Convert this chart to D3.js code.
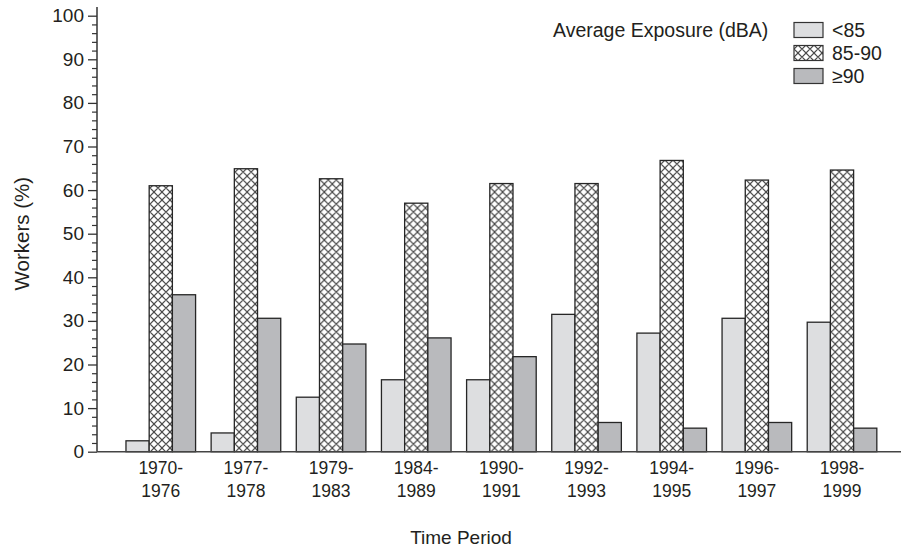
<!DOCTYPE html>
<html>
<head>
<meta charset="utf-8">
<script src="https://cdn.jsdelivr.net/npm/d3@7"></script>
<style>
  body { margin: 0; background: #fff; }
  svg text { font-family: "Liberation Sans", Arial, Helvetica, sans-serif; fill: #231f20; }
</style>
</head>
<body>
<svg id="chart" width="901" height="548"></svg>
<script>
// Share of workers by average noise exposure band, per time period
const periodLabels = [
  ["1970-", "1976"], ["1977-", "1978"], ["1979-", "1983"],
  ["1984-", "1989"], ["1990-", "1991"], ["1992-", "1993"],
  ["1994-", "1995"], ["1996-", "1997"], ["1998-", "1999"]
];
const seriesNames = ["<85", "85-90", "≥90"];
const below85    = [2.5, 4.3, 12.5, 16.5, 16.5, 31.5, 27.2, 30.6, 29.7];
const from85to90 = [61.0, 64.9, 62.6, 57.0, 61.5, 61.5, 66.8, 62.3, 64.6];
const atLeast90  = [36.0, 30.6, 24.7, 26.1, 21.8, 6.7, 5.4, 6.7, 5.4];
const majorTicks = [0, 10, 20, 30, 40, 50, 60, 70, 80, 90, 100];
const minorTicks = d3.range(0, 101, 2).filter(v => v % 10 !== 0);

const legendTitle = "Average Exposure (dBA)";
const xTitle = "Time Period";
const yTitle = "Workers (%)";

const W = 901, H = 548;
const axisX = 97;

const svg = d3.select("#chart");

// Fill styles per series
const defs = svg.append("defs");
const pat = defs.append("pattern")
  .attr("id", "crosshatch")
  .attr("patternUnits", "userSpaceOnUse")
  .attr("width", 8).attr("height", 8);
pat.append("rect").attr("width", 8).attr("height", 8).attr("fill", "#fff");
pat.append("path")
  .attr("d", "M0,4L4,0L8,4L4,8Z")
  .attr("fill", "none")
  .attr("stroke", "#4a4a4a")
  .attr("stroke-width", 1.2);

const fills = ["#dddee0", "url(#crosshatch)", "#b9babd"];

const periodKeys = periodLabels.map(d => d.join(""));
const rows = periodKeys.map((k, i) => ({
  key: k,
  values: [below85[i], from85to90[i], atLeast90[i]]
}));

const y = d3.scaleLinear().domain([0, 100]).range([451.7, 15.7]);
const x0 = d3.scaleBand().domain(periodKeys).range([118.2, 884.6])
  .paddingInner(0.1826).paddingOuter(0.0913);
const x1 = d3.scaleBand().domain(seriesNames).range([0, x0.bandwidth()]);

// Bars
const groups = svg.append("g").selectAll("g")
  .data(rows).join("g")
  .attr("transform", d => `translate(${x0(d.key)},0)`);

groups.selectAll("rect")
  .data(d => d.values.map((v, j) => ({ name: seriesNames[j], value: v, j })))
  .join("rect")
  .attr("x", d => x1(d.name))
  .attr("y", d => y(d.value))
  .attr("width", x1.bandwidth())
  .attr("height", d => y(0) - y(d.value))
  .attr("fill", d => fills[d.j])
  .attr("stroke", "#262626")
  .attr("stroke-width", 1.3);

// Y axis: major and minor ticks
const yAxisG = svg.append("g").attr("transform", `translate(${axisX},0)`);
yAxisG.append("g")
  .call(d3.axisLeft(y).tickValues(minorTicks).tickSize(5).tickFormat(""))
  .call(g => g.select(".domain").remove())
  .call(g => g.selectAll("line").attr("stroke", "#333").attr("stroke-width", 1.2));
yAxisG.append("g")
  .call(d3.axisLeft(y).tickValues(majorTicks).tickSize(9).tickPadding(4))
  .call(g => g.select(".domain").remove())
  .call(g => g.selectAll("line").attr("stroke", "#333").attr("stroke-width", 1.3))
  .call(g => g.selectAll("text").attr("font-size", 19).style("font-family", "'Liberation Sans', Arial, sans-serif").attr("fill", "#231f20"));
yAxisG.append("line")
  .attr("x1", 0).attr("x2", 0)
  .attr("y1", y(102)).attr("y2", y(0))
  .attr("stroke", "#333").attr("stroke-width", 1.5);

// Baseline
svg.append("line")
  .attr("x1", axisX).attr("x2", W)
  .attr("y1", y(0)).attr("y2", y(0))
  .attr("stroke", "#444").attr("stroke-width", 1.5);

// Category labels (two lines each)
const xLab = svg.append("g").selectAll("text")
  .data(rows).join("text")
  .attr("text-anchor", "middle")
  .attr("font-size", 17.5)
  .attr("x", d => x0(d.key) + x0.bandwidth() / 2);
xLab.append("tspan").attr("y", 474).text((d, i) => periodLabels[i][0])
  .attr("x", d => x0(d.key) + x0.bandwidth() / 2);
xLab.append("tspan").attr("y", 497).text((d, i) => periodLabels[i][1])
  .attr("x", d => x0(d.key) + x0.bandwidth() / 2);

// Axis titles
svg.append("text")
  .attr("x", 461).attr("y", 544)
  .attr("text-anchor", "middle")
  .attr("font-size", 19)
  .text(xTitle);
svg.append("text")
  .attr("transform", `translate(29,${y(50)}) rotate(-90)`)
  .attr("text-anchor", "middle")
  .attr("font-size", 20.5)
  .text(yTitle);

// Legend
const legend = svg.append("g");
legend.append("text")
  .attr("x", 553).attr("y", 30).attr("dy", "0.35em")
  .attr("font-size", 19.5)
  .text(legendTitle);
const items = legend.selectAll("g.item")
  .data(seriesNames).join("g")
  .attr("class", "item")
  .attr("transform", (d, i) => `translate(794,${30 + i * 23})`);
items.append("rect")
  .attr("x", 0).attr("y", -7.5)
  .attr("width", 29).attr("height", 15)
  .attr("fill", (d, i) => fills[i])
  .attr("stroke", "#333").attr("stroke-width", 1.2);
items.append("text")
  .attr("x", 38).attr("y", 0).attr("dy", "0.35em")
  .attr("font-size", 19.5)
  .text(d => d);
</script>
</body>
</html>
